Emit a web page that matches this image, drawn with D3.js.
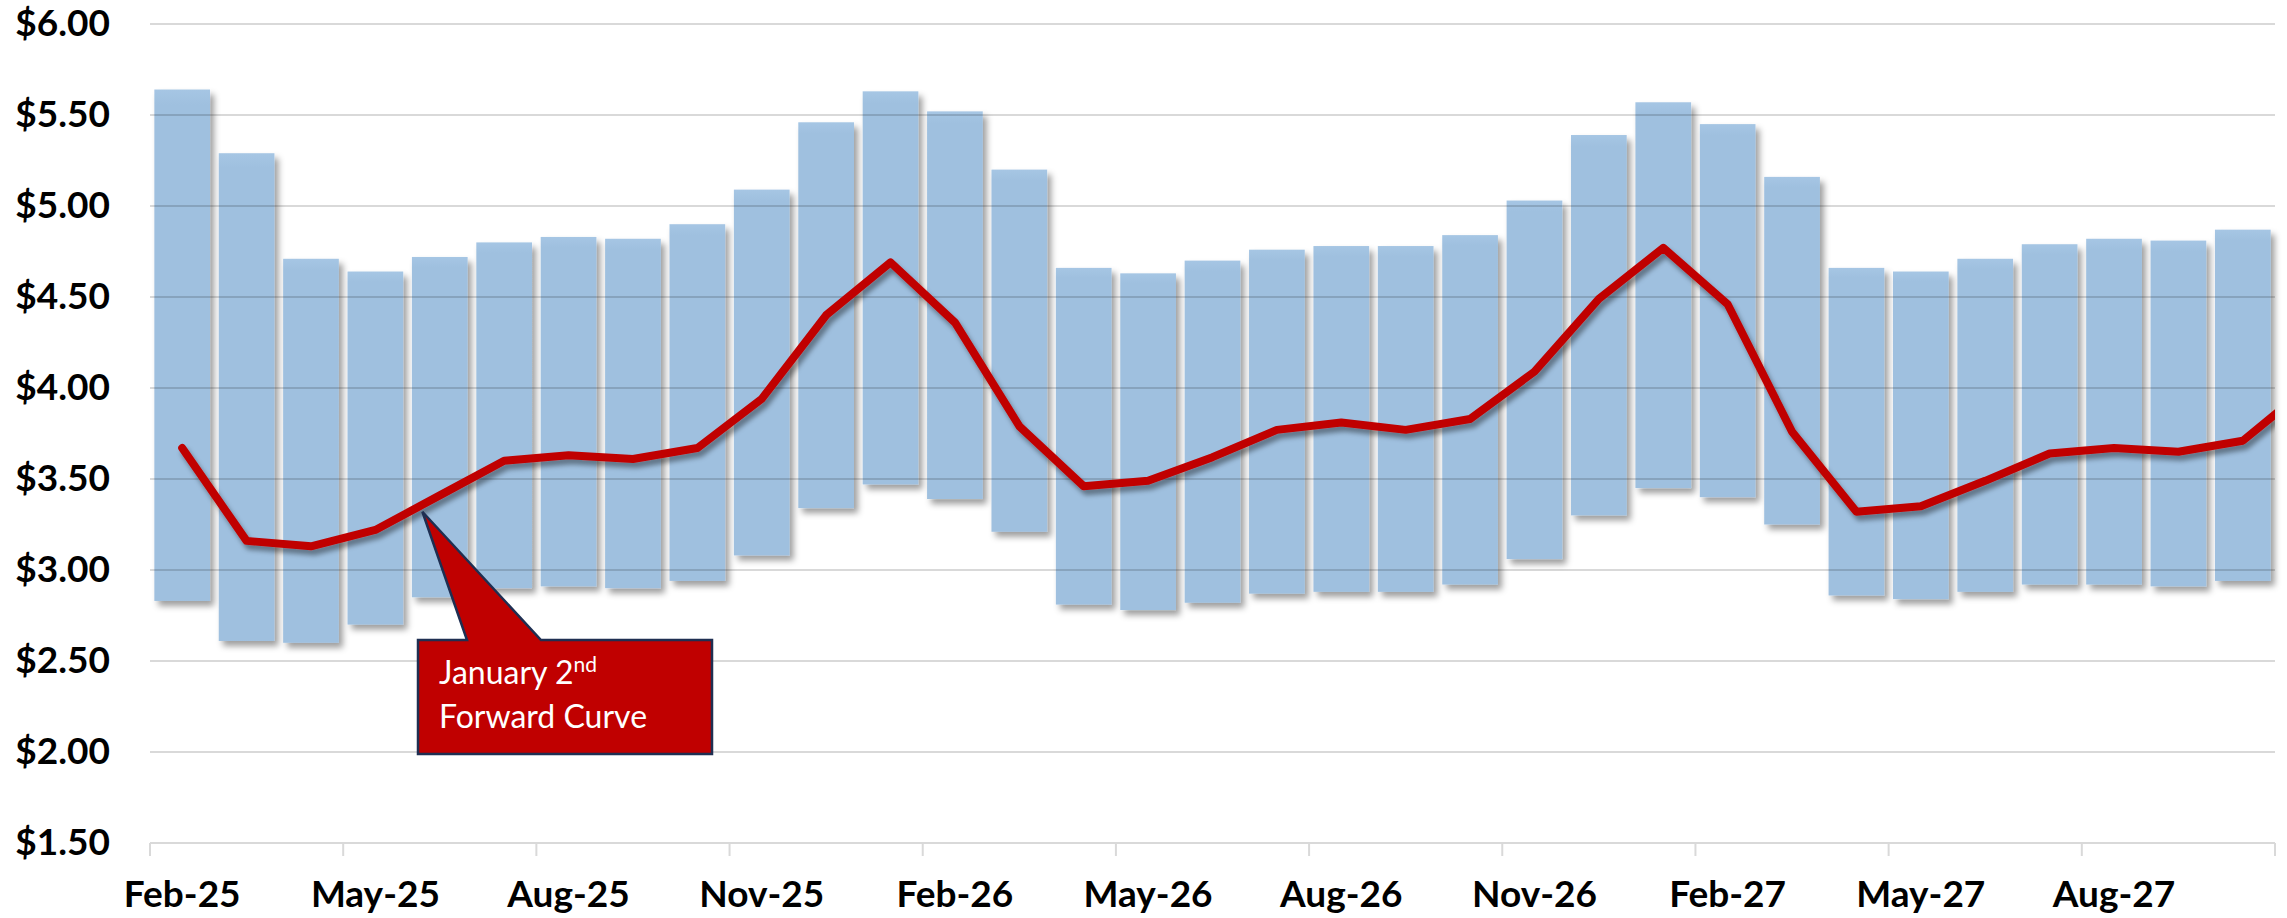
<!DOCTYPE html>
<html>
<head>
<meta charset="utf-8">
<script src="https://cdn.jsdelivr.net/npm/d3@7"></script>
<style>
  html, body { margin: 0; padding: 0; background: #fff; }
  svg { display: block; }
</style>
</head>
<body>
<svg id="chart" width="2287" height="918"></svg>
<script>
// ---- data ----
const months = ["Feb-25","Mar-25","Apr-25","May-25","Jun-25","Jul-25","Aug-25","Sep-25","Oct-25","Nov-25","Dec-25",
  "Jan-26","Feb-26","Mar-26","Apr-26","May-26","Jun-26","Jul-26","Aug-26","Sep-26","Oct-26","Nov-26","Dec-26",
  "Jan-27","Feb-27","Mar-27","Apr-27","May-27","Jun-27","Jul-27","Aug-27","Sep-27","Oct-27","Nov-27"];
const rangeHigh = [5.64,5.29,4.71,4.64,4.72,4.80,4.83,4.82,4.90,5.09,5.46,
  5.63,5.52,5.20,4.66,4.63,4.70,4.76,4.78,4.78,4.84,5.03,5.39,
  5.57,5.45,5.16,4.66,4.64,4.71,4.79,4.82,4.81,4.87];
const rangeLow = [2.83,2.61,2.60,2.70,2.85,2.90,2.91,2.90,2.94,3.08,3.34,
  3.47,3.39,3.21,2.81,2.78,2.82,2.87,2.88,2.88,2.92,3.06,3.30,
  3.45,3.40,3.25,2.86,2.84,2.88,2.92,2.92,2.91,2.94];
const forwardCurve = [3.67,3.16,3.13,3.22,3.41,3.60,3.63,3.61,3.67,3.94,4.40,
  4.69,4.36,3.79,3.46,3.49,3.62,3.77,3.81,3.77,3.83,4.09,4.49,
  4.77,4.46,3.76,3.32,3.35,3.49,3.64,3.67,3.65,3.71,4.00];
const yTicks = [1.5,2.0,2.5,3.0,3.5,4.0,4.5,5.0,5.5,6.0];
const xLabelMonths = ["Feb-25","May-25","Aug-25","Nov-25","Feb-26","May-26","Aug-26","Nov-26","Feb-27","May-27","Aug-27"];
const xTickMonths = ["Feb-25","May-25","Aug-25","Nov-25","Feb-26","May-26","Aug-26","Nov-26","Feb-27","May-27","Aug-27","Nov-27"];
const annotationLines = ["January 2", "Forward Curve"];
const annotationSup = "nd";

// ---- layout ----
const plotLeft = 150, plotRight = 2275, plotTop = 24, plotBottom = 843;
const nShown = 33;
const step = (plotRight - plotLeft) / nShown;

const svg = d3.select("#chart");
const x = d3.scaleBand().domain(months).range([plotLeft, plotLeft + months.length * step]).paddingInner(0.135).paddingOuter(0.0675);
const xc = m => x(m) + x.bandwidth() / 2;
const xStart = m => plotLeft + months.indexOf(m) * step;
const y = d3.scaleLinear().domain([1.5, 6]).range([plotBottom, plotTop]);

const defs = svg.append("defs");
const fb = defs.append("filter").attr("id","barShadow").attr("x","-20%").attr("y","-10%").attr("width","150%").attr("height","130%");
fb.append("feDropShadow").attr("dx",4).attr("dy",5).attr("stdDeviation",3).attr("flood-color","#000").attr("flood-opacity",0.38);
const fl = defs.append("filter").attr("id","lineShadow").attr("x","-5%").attr("y","-20%").attr("width","110%").attr("height","140%");
fl.append("feDropShadow").attr("dx",3).attr("dy",5).attr("stdDeviation",2.5).attr("flood-color","#000").attr("flood-opacity",0.4);
defs.append("clipPath").attr("id","plotClip").append("rect")
  .attr("x", plotLeft).attr("y", 0).attr("width", plotRight - plotLeft).attr("height", plotBottom);
const grad = defs.append("linearGradient").attr("id","barGrad").attr("x1",0).attr("x2",0).attr("y1",0).attr("y2",1);
grad.append("stop").attr("offset","0%").attr("stop-color","#a6c6e4");
grad.append("stop").attr("offset","3%").attr("stop-color","#9fc0df");
grad.append("stop").attr("offset","100%").attr("stop-color","#9fc0df");

// bars
const barData = months.slice(0, nShown).map((m, i) => ({m, hi: rangeHigh[i], lo: rangeLow[i]}));
svg.append("g").attr("filter","url(#barShadow)")
  .selectAll("rect").data(barData).join("rect")
  .attr("x", d => x(d.m))
  .attr("width", x.bandwidth())
  .attr("y", d => y(d.hi))
  .attr("height", d => y(d.lo) - y(d.hi))
  .attr("fill", "url(#barGrad)");

// gridlines (semi-transparent so they show through bars)
svg.append("g").selectAll("line").data(yTicks.filter(v => v > 1.5)).join("line")
  .attr("x1", plotLeft).attr("x2", plotRight)
  .attr("y1", d => y(d)).attr("y2", d => y(d))
  .attr("stroke", "rgba(0,0,0,0.15)").attr("stroke-width", 2);

// x axis baseline + ticks
svg.append("line").attr("x1", plotLeft).attr("x2", plotRight).attr("y1", y(1.5)).attr("y2", y(1.5))
  .attr("stroke", "#d9d9d9").attr("stroke-width", 2);
svg.append("g").selectAll("line").data(xTickMonths).join("line")
  .attr("x1", d => xStart(d)).attr("x2", d => xStart(d))
  .attr("y1", y(1.5)).attr("y2", y(1.5) + 13)
  .attr("stroke", "#d9d9d9").attr("stroke-width", 2);

// x labels
svg.append("g").selectAll("text").data(xLabelMonths).join("text")
  .attr("x", d => xc(d)).attr("y", 907)
  .attr("text-anchor","middle")
  .attr("font-family","Lato, 'Open Sans', sans-serif").attr("font-weight","bold").attr("font-size", 37)
  .attr("fill","#000").text(d => d);

// y axis labels
const yAxis = d3.axisLeft(y).tickValues(yTicks).tickSize(0).tickPadding(0)
  .tickFormat(v => "$" + v.toFixed(2));
const gy = svg.append("g").attr("transform", `translate(110,0)`).call(yAxis);
gy.select(".domain").remove();
gy.selectAll("text").attr("font-family","Lato, 'Open Sans', sans-serif").attr("font-weight","bold")
  .attr("font-size", 37).attr("fill","#000");

// forward curve line
const line = d3.line().x((d, i) => xc(months[i])).y(d => y(d));
svg.append("g").attr("clip-path","url(#plotClip)")
  .append("path").datum(forwardCurve)
  .attr("d", line)
  .attr("fill","none").attr("stroke","#c00000").attr("stroke-width",8)
  .attr("stroke-linejoin","round").attr("stroke-linecap","round")
  .attr("filter","url(#lineShadow)");

// annotation callout
const tipX = xc("May-25") + 0.73 * step, tipY = y(3.32);
const bx0 = 418, bx1 = 712, by0 = 640, by1 = 754, px0 = 467, px1 = 541;
const callout = d3.path();
callout.moveTo(bx0, by0); callout.lineTo(px0, by0); callout.lineTo(tipX, tipY);
callout.lineTo(px1, by0); callout.lineTo(bx1, by0); callout.lineTo(bx1, by1);
callout.lineTo(bx0, by1); callout.closePath();
svg.append("path").attr("d", callout.toString())
  .attr("fill","#c00000").attr("stroke","#1f2f52").attr("stroke-width",2.5).attr("stroke-linejoin","miter");
const t1 = svg.append("text").attr("x", 439).attr("y", 684)
  .attr("font-family","Lato, 'Open Sans', sans-serif").attr("font-size",32).attr("fill","#fff");
t1.append("tspan").text(annotationLines[0]);
t1.append("tspan").attr("dy",-12).attr("font-size",21).text(annotationSup);
svg.append("text").attr("x", 439).attr("y", 728)
  .attr("font-family","Lato, 'Open Sans', sans-serif").attr("font-size",32).attr("fill","#fff")
  .text(annotationLines[1]);
</script>
</body>
</html>
